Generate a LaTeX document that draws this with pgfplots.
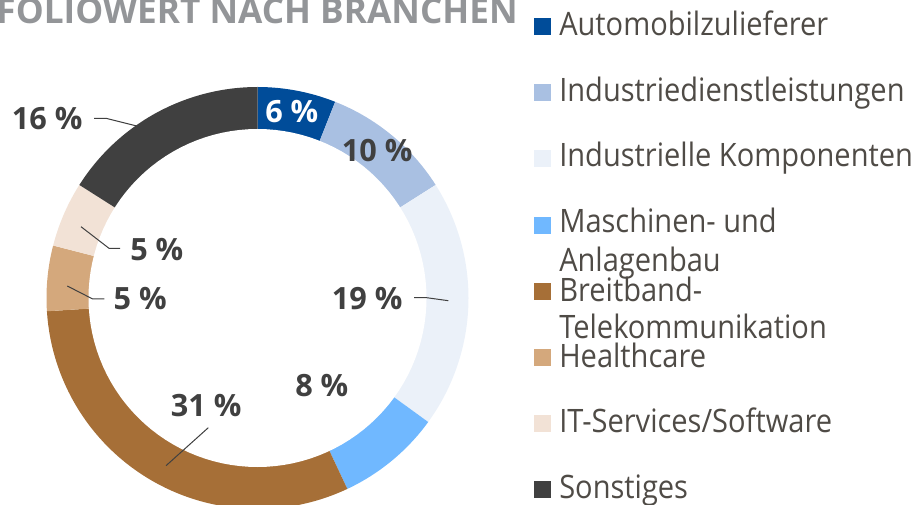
\documentclass[border=0pt]{standalone}
\usepackage{fontspec}
\setmainfont{Open Sans}[FakeStretch=0.9]
\newfontfamily\boldfam{Open Sans}
\usepackage{pgfplots}
\usepackage{pgfplotstable}
\pgfplotsset{compat=1.18}

\definecolor{cAuto}{HTML}{004C99}
\definecolor{cDienst}{HTML}{A9C0E2}
\definecolor{cKomp}{HTML}{EBF1F9}
\definecolor{cMasch}{HTML}{70B8FF}
\definecolor{cBreit}{HTML}{A66F37}
\definecolor{cHealth}{HTML}{D4A87C}
\definecolor{cIT}{HTML}{F2E2D6}
\definecolor{cSonst}{HTML}{404040}
\definecolor{cTitle}{HTML}{939598}
\definecolor{cLbl}{HTML}{404040}
\definecolor{cLeg}{HTML}{4F4B46}

% shares in percent, clockwise from 12 o'clock
\pgfplotstableread{
share colour
6  cAuto
10 cDienst
19 cKomp
8  cMasch
31 cBreit
5  cHealth
5  cIT
16 cSonst
}\sharetable

\newcommand\legfont{\fontsize{24.2}{29}\selectfont}
\newcommand\lblfont{\boldfam\fontsize{23}{28}\selectfont\bfseries}

\begin{document}
\begin{tikzpicture}
\begin{axis}[
    scale only axis,
    width=684pt, height=378.75pt,
    xmin=0, xmax=912, ymin=0, ymax=505,
    y dir=reverse,
    hide axis,
]
% ring segments
\def\cum{0}
\pgfplotsforeachungrouped \i in {0,...,7}{%
  \pgfplotstablegetelem{\i}{share}\of\sharetable
  \let\segval\pgfplotsretval
  \pgfplotstablegetelem{\i}{colour}\of\sharetable
  \let\segcol\pgfplotsretval
  \pgfmathsetmacro{\segfrom}{\cum*3.6}
  \pgfmathsetmacro{\segto}{(\cum+\segval)*3.6}
  \pgfmathsetmacro{\cum}{\cum+\segval}
  \edef\temp{\noexpand\addplot[fill=\segcol, draw=none, domain=\segfrom:\segto, samples=60]
     ({257.5+211*sin(x)},{298-211*cos(x)}) -- (257.5,298) -- cycle;}
  \temp
}
% hole
\addplot[fill=white, draw=none, domain=0:360, samples=121]
  ({257.5+169*sin(x)},{298-169*cos(x)}) -- cycle;

% leader lines
\addplot[cLbl, line width=0.75pt] coordinates {(94,118.3) (106,118.3) (136.7,126)};
\addplot[cLbl, line width=0.75pt] coordinates {(414,297.7) (426.7,297.7) (448.3,300.7)};
\addplot[cLbl, line width=0.75pt] coordinates {(208.3,427.7) (166,465.7)};
\addplot[cLbl, line width=0.75pt] coordinates {(120,248.3) (109,248.3) (81,226.7)};
\addplot[cLbl, line width=0.75pt] coordinates {(104.3,299) (92.7,299) (67.3,286)};

% value labels
\node[anchor=base west, inner sep=0, text=cLbl, font=\lblfont] at (11.7,129.3) {16 \%};
\node[anchor=base west, inner sep=0, text=white, font=\lblfont] at (265,122.7) {6 \%};
\node[anchor=base west, inner sep=0, text=cLbl, font=\lblfont] at (341.7,161.7) {10 \%};
\node[anchor=base west, inner sep=0, text=cLbl, font=\lblfont] at (331.7,309.3) {19 \%};
\node[anchor=base west, inner sep=0, text=cLbl, font=\lblfont] at (295,396.7) {8 \%};
\node[anchor=base west, inner sep=0, text=cLbl, font=\lblfont] at (170.7,416.7) {31 \%};
\node[anchor=base west, inner sep=0, text=cLbl, font=\lblfont] at (130,260.7) {5 \%};
\node[anchor=base west, inner sep=0, text=cLbl, font=\lblfont] at (113.3,310) {5 \%};

% legend
\addplot[fill=cAuto, draw=none] coordinates {(534,18) (551,18) (551,35) (534,35)} -- cycle;
\addplot[fill=cDienst, draw=none] coordinates {(534,84) (551,84) (551,101) (534,101)} -- cycle;
\addplot[fill=cKomp, draw=none] coordinates {(534,150) (551,150) (551,167) (534,167)} -- cycle;
\addplot[fill=cMasch, draw=none] coordinates {(534,217) (551,217) (551,234) (534,234)} -- cycle;
\addplot[fill=cBreit, draw=none] coordinates {(534,283) (551,283) (551,300) (534,300)} -- cycle;
\addplot[fill=cHealth, draw=none] coordinates {(534,349) (551,349) (551,366) (534,366)} -- cycle;
\addplot[fill=cIT, draw=none] coordinates {(534,415) (551,415) (551,432) (534,432)} -- cycle;
\addplot[fill=cSonst, draw=none] coordinates {(534,481) (551,481) (551,498) (534,498)} -- cycle;

\node[anchor=base west, inner sep=0, text=cLeg, font=\legfont] at (559,35.7) {Automobilzulieferer};
\node[anchor=base west, inner sep=0, text=cLeg, font=\legfont] at (559,101.7) {Industriedienstleistungen};
\node[anchor=base west, inner sep=0, text=cLeg, font=\legfont] at (559,166.7) {Industrielle Komponenten};
\node[anchor=base west, inner sep=0, text=cLeg, font=\legfont] at (559,233) {Maschinen- und};
\node[anchor=base west, inner sep=0, text=cLeg, font=\legfont] at (559,271.7) {Anlagenbau};
\node[anchor=base west, inner sep=0, text=cLeg, font=\legfont] at (559,301.7) {Breitband-};
\node[anchor=base west, inner sep=0, text=cLeg, font=\legfont] at (559,338.3) {Telekommunikation};
\node[anchor=base west, inner sep=0, text=cLeg, font=\legfont] at (559,367) {Healthcare};
\node[anchor=base west, inner sep=0, text=cLeg, font=\legfont] at (559,432.7) {IT-Services/Software};
\node[anchor=base west, inner sep=0, text=cLeg, font=\legfont] at (559,498) {Sonstiges};

% title, clipped at the left edge as in the source
\node[anchor=base east, inner sep=0, text=cTitle, font=\boldfam\fontsize{26.4}{31}\selectfont\bfseries] at (518,23.3) {PORTFOLIOWERT NACH BRANCHEN};
\end{axis}
\pgfresetboundingbox
\useasboundingbox (0,0) rectangle (684pt,378.75pt);
\end{tikzpicture}
\end{document}
